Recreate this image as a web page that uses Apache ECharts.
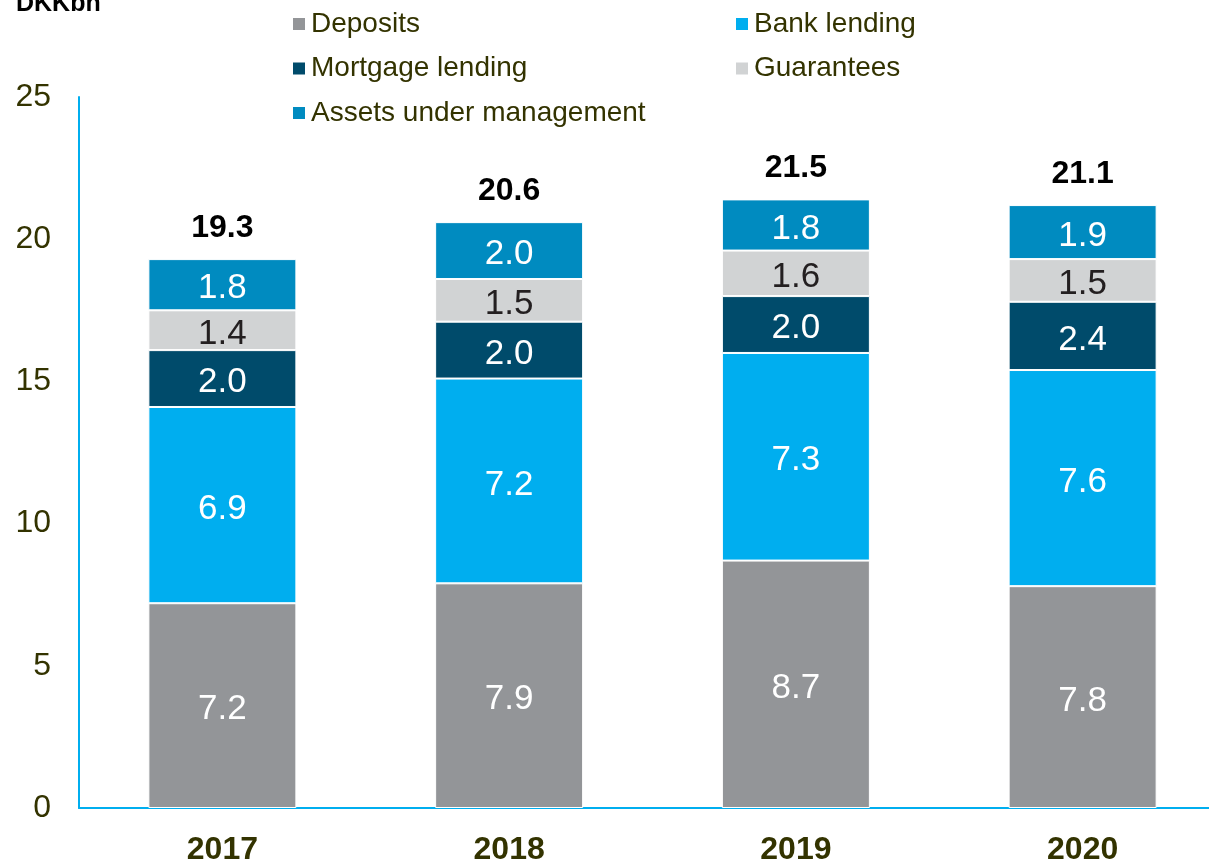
<!DOCTYPE html>
<html>
<head>
<meta charset="utf-8">
<script src="https://cdn.jsdelivr.net/npm/echarts@6/dist/echarts.min.js"></script>
<style>
  html, body { margin: 0; padding: 0; background: #fff; }
  #chart { width: 1209px; height: 863px; }
</style>
</head>
<body>
<div id="chart"></div>
<script>
var years = ['2017', '2018', '2019', '2020'];
var deposits = [7.2, 7.9, 8.7, 7.8];
var bankLending = [6.9, 7.2, 7.3, 7.6];
var mortgageLending = [2.0, 2.0, 2.0, 2.4];
var guarantees = [1.4, 1.5, 1.6, 1.5];
var assetsUnderMgmt = [1.8, 2.0, 1.8, 1.9];
var totals = [19.3, 20.6, 21.5, 21.1];

var textColor = '#333300';
var axisBlue = '#00aeef';
var font = 'Liberation Sans, Arial, sans-serif';

function segment (name, data, color, labelColor) {
  return {
    name: name,
    type: 'bar',
    stack: 'total',
    barWidth: 148,
    data: data,
    itemStyle: { color: color, borderColor: '#fff', borderWidth: 1 },
    label: {
      show: true,
      position: 'inside',
      offset: [0, 4],
      color: labelColor,
      fontSize: 35,
      fontFamily: font,
      formatter: function (p) { return p.value.toFixed(1) }
    },
    emphasis: { disabled: true }
  }
}

var myChart = echarts.init(document.getElementById('chart'));
var legendText = { color: textColor, fontSize: 28, fontFamily: font, lineHeight: 28 };
var option = {
  backgroundColor: '#fff',
  animation: false,
  grid: { left: 79, top: 97, bottom: 55, right: -17, outerBoundsMode: 'none', containLabel: false },
  legend: [
    {
      orient: 'vertical', left: 291, top: 10, padding: 0, itemGap: 16.5,
      itemWidth: 14, itemHeight: 14, icon: 'rect',
      data: ['Deposits', 'Mortgage lending', 'Assets under management'],
      textStyle: legendText
    },
    {
      orient: 'vertical', left: 734, top: 10, padding: 0, itemGap: 16.5,
      itemWidth: 14, itemHeight: 14, icon: 'rect',
      data: ['Bank lending', 'Guarantees'],
      textStyle: legendText
    }
  ],
  graphic: [{
    type: 'text', x: 16, y: 17,
    style: { text: 'DKKbn', fill: '#000', font: 'bold 25px ' + font, verticalAlign: 'bottom' }
  }],
  xAxis: {
    type: 'category',
    data: years,
    axisLine: { lineStyle: { color: axisBlue, width: 2 } },
    axisTick: { show: false },
    axisLabel: { color: textColor, fontSize: 32, fontWeight: 'bold', fontFamily: font, margin: 26 }
  },
  yAxis: {
    type: 'value',
    min: 0, max: 25, interval: 5,
    splitLine: { show: false },
    axisLine: { show: true, lineStyle: { color: axisBlue, width: 2 } },
    axisTick: { show: false },
    axisLabel: { color: textColor, fontSize: 32, fontFamily: font, margin: 28, padding: [3, 0, 0, 0] }
  },
  series: [
    segment('Deposits', deposits, '#939598', '#fff'),
    segment('Bank lending', bankLending, '#00aeef', '#fff'),
    segment('Mortgage lending', mortgageLending, '#004b6b', '#fff'),
    segment('Guarantees', guarantees, '#d1d3d4', '#231f20'),
    segment('Assets under management', assetsUnderMgmt, '#008bc0', '#fff'),
    {
      name: 'Total',
      type: 'bar',
      stack: 'total',
      barWidth: 148,
      data: totals.map(function () { return 0 }),
      itemStyle: { color: 'transparent' },
      label: {
        show: true,
        position: 'top',
        distance: 15,
        color: '#000',
        fontSize: 32,
        fontWeight: 'bold',
        fontFamily: font,
        formatter: function (p) { return totals[p.dataIndex].toFixed(1) }
      },
      emphasis: { disabled: true }
    }
  ]
};
myChart.setOption(option);
myChart.resize();
</script>
</body>
</html>
